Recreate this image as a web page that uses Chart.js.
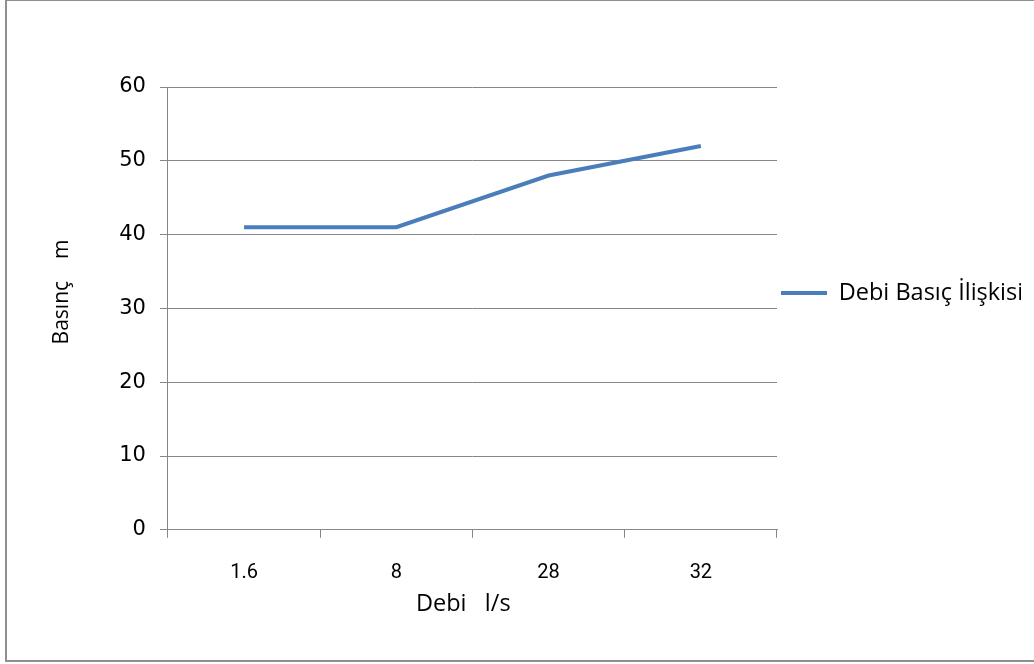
<!DOCTYPE html>
<html>
<head>
<meta charset="utf-8">
<script src="https://cdn.jsdelivr.net/npm/chart.js@4"></script>
<style>
  html, body { margin: 0; padding: 0; background: #fff; width: 1034px; height: 664px; overflow: hidden; }
  #frame { position: absolute; left: 5px; top: 0; width: 1040px; height: 662px; border: 2px solid #8f8f8f; border-top-width: 1px; box-sizing: border-box; }
  #c { position: absolute; left: 0; top: 0; }
</style>
</head>
<body>
<div id="frame"></div>
<canvas id="c" width="1034" height="664"></canvas>
<script>
// Data
const categories = ['1.6', '8', '28', '32'];
const pressureValues = [41, 41, 48, 52];
const seriesName = 'Debi Basıç İlişkisi';
const xTitle = 'Debi   l/s   ';
const yTitle = '      Basınç    m';
const yMin = 0, yMax = 60, yStep = 10;

const gridColor = '#868686';
const lineColor = '#4a7ebb';
const mainFont = '"Open Sans", Roboto, sans-serif';

new Chart(document.getElementById('c'), {
  type: 'line',
  data: {
    labels: categories,
    datasets: [{
      label: seriesName,
      data: pressureValues,
      borderColor: lineColor,
      backgroundColor: lineColor,
      borderWidth: 4,
      pointRadius: 0,
      pointHoverRadius: 0,
      tension: 0,
      fill: false
    }]
  },
  options: {
    responsive: false,
    animation: false,
    devicePixelRatio: 1,
    layout: { padding: { left: 45, top: 87, right: 13, bottom: 42 } },
    plugins: {
      tooltip: { enabled: false },
      legend: {
        position: 'right',
        align: 'start',
        fullSize: false,
        title: { display: true, text: '', padding: { top: 189, bottom: 0 }, font: { size: 1 } },
        labels: {
          usePointStyle: true,
          pointStyle: 'line',
          pointStyleWidth: 46,
          padding: 4,
          color: '#000',
          font: { family: mainFont, size: 23.5 }
        }
      }
    },
    scales: {
      x: {
        type: 'category',
        offset: true,
        grid: { display: true, drawOnChartArea: false, drawTicks: true, tickLength: 8, offset: true, color: gridColor },
        border: { display: true, color: gridColor },
        ticks: { color: '#000', padding: 23, font: { family: 'Roboto, sans-serif', size: 20 } },
        title: { display: true, text: xTitle, color: '#000', padding: { top: -18, bottom: 4 }, font: { family: mainFont, size: 23.5 } }
      },
      y: {
        min: yMin,
        max: yMax,
        ticks: { stepSize: yStep, color: '#000', padding: 14, font: { family: '"DejaVu Sans", sans-serif', size: 21 } },
        grid: { color: gridColor, drawTicks: true, tickLength: 8 },
        border: { display: true, color: gridColor },
        title: { display: true, text: yTitle, color: '#000', padding: { top: 4, bottom: 31 }, font: { family: mainFont, size: 21 } }
      }
    }
  }
});
</script>
</body>
</html>
